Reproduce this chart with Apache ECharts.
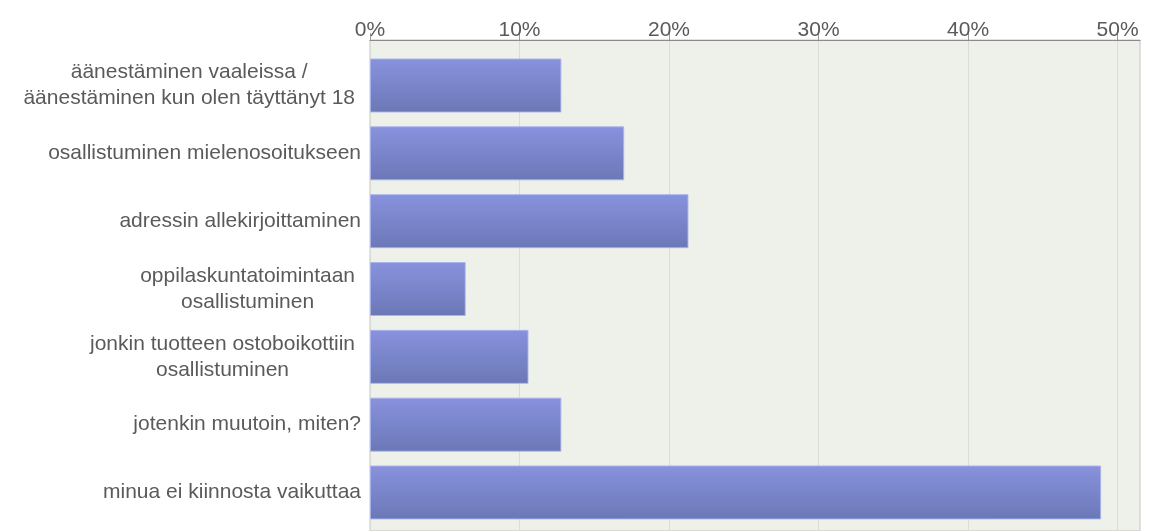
<!DOCTYPE html>
<html>
<head>
<meta charset="utf-8">
<script src="https://cdn.jsdelivr.net/npm/echarts@6/dist/echarts.min.js"></script>
<style>
html,body{margin:0;padding:0;background:#fff;}
#main{width:1149px;height:531px;}
</style>
</head>
<body>
<div id="main"></div>
<script>
// Data
const categories = [
  'äänestäminen vaaleissa /\näänestäminen kun olen täyttänyt 18',
  'osallistuminen mielenosoitukseen',
  'adressin allekirjoittaminen',
  'oppilaskuntatoimintaan\nosallistuminen',
  'jonkin tuotteen ostoboikottiin\nosallistuminen',
  'jotenkin muutoin, miten?',
  'minua ei kiinnosta vaikuttaa'
];
const values = [12.8, 17.0, 21.3, 6.4, 10.6, 12.8, 48.9];
const tickValues = [0, 10, 20, 30, 40, 50];

const FONT = "'Liberation Sans', Arial, sans-serif";
const TXT = '#5a5a5a';
const AXMAX = 51.5;

const chart = echarts.init(document.getElementById('main'), null, {renderer: 'canvas'});
chart.setOption({
  animation: false,
  backgroundColor: '#ffffff',
  grid: [
    {left: 370, right: 9, top: 40, bottom: -2, show: true,
     backgroundColor: '#eef0ea', borderColor: '#c4c6c0', borderWidth: 1},
    {left: 370, right: 9, top: 51.6, bottom: 4.6}
  ],
  xAxis: [
    {gridIndex: 0, type: 'value', position: 'top', min: 0, max: AXMAX, interval: 10,
     axisLine: {show: true, onZero: false, lineStyle: {color: '#8a8a8a', width: 1}},
     axisTick: {show: true, length: 7, lineStyle: {color: '#9a9a9a'}, customValues: tickValues},
     axisLabel: {show: true, color: TXT, fontFamily: FONT, fontSize: 21, margin: -1,
                 formatter: '{value}%', customValues: tickValues},
     splitLine: {show: true, lineStyle: {color: '#dadcd6', width: 1}}},
    {gridIndex: 1, type: 'value', min: 0, max: AXMAX, show: false,
     axisLine: {show: false, onZero: false}, axisTick: {show: false}, axisLabel: {show: false},
     splitLine: {show: false}}
  ],
  yAxis: [
    {gridIndex: 0, type: 'value', min: 0, max: 1, show: false,
     axisLine: {show: false, onZero: false},
     axisTick: {show: false}, axisLabel: {show: false}, splitLine: {show: false}},
    {gridIndex: 1, type: 'category', data: categories, inverse: true,
     axisLine: {show: false, onZero: false}, axisTick: {show: false}, splitLine: {show: false},
     axisLabel: {
       margin: 9, color: TXT, fontFamily: FONT, fontSize: 21, lineHeight: 26,
       formatter: function (v) {
         const lines = v.split('\n');
         if (lines.length === 1) return '{s|' + v + '}';
         return lines.map(l => '{m|' + l + '}').join('\n');
       },
       rich: {
         s: {color: TXT, fontFamily: FONT, fontSize: 21, lineHeight: 26},
         m: {color: TXT, fontFamily: FONT, fontSize: 21, lineHeight: 26, align: 'center', padding: [0, 6, 0, 0]}
       }
     }}
  ],
  series: [{
    type: 'bar',
    xAxisIndex: 1,
    yAxisIndex: 1,
    data: values,
    barWidth: 54,
    itemStyle: {
      color: new echarts.graphic.LinearGradient(0, 0, 0, 1, [
        {offset: 0, color: '#8892de'},
        {offset: 1, color: '#6b78b6'}
      ]),
      borderColor: 'rgba(170,180,235,0.9)',
      borderWidth: 1
    }
  }]
});
</script>
</body>
</html>
